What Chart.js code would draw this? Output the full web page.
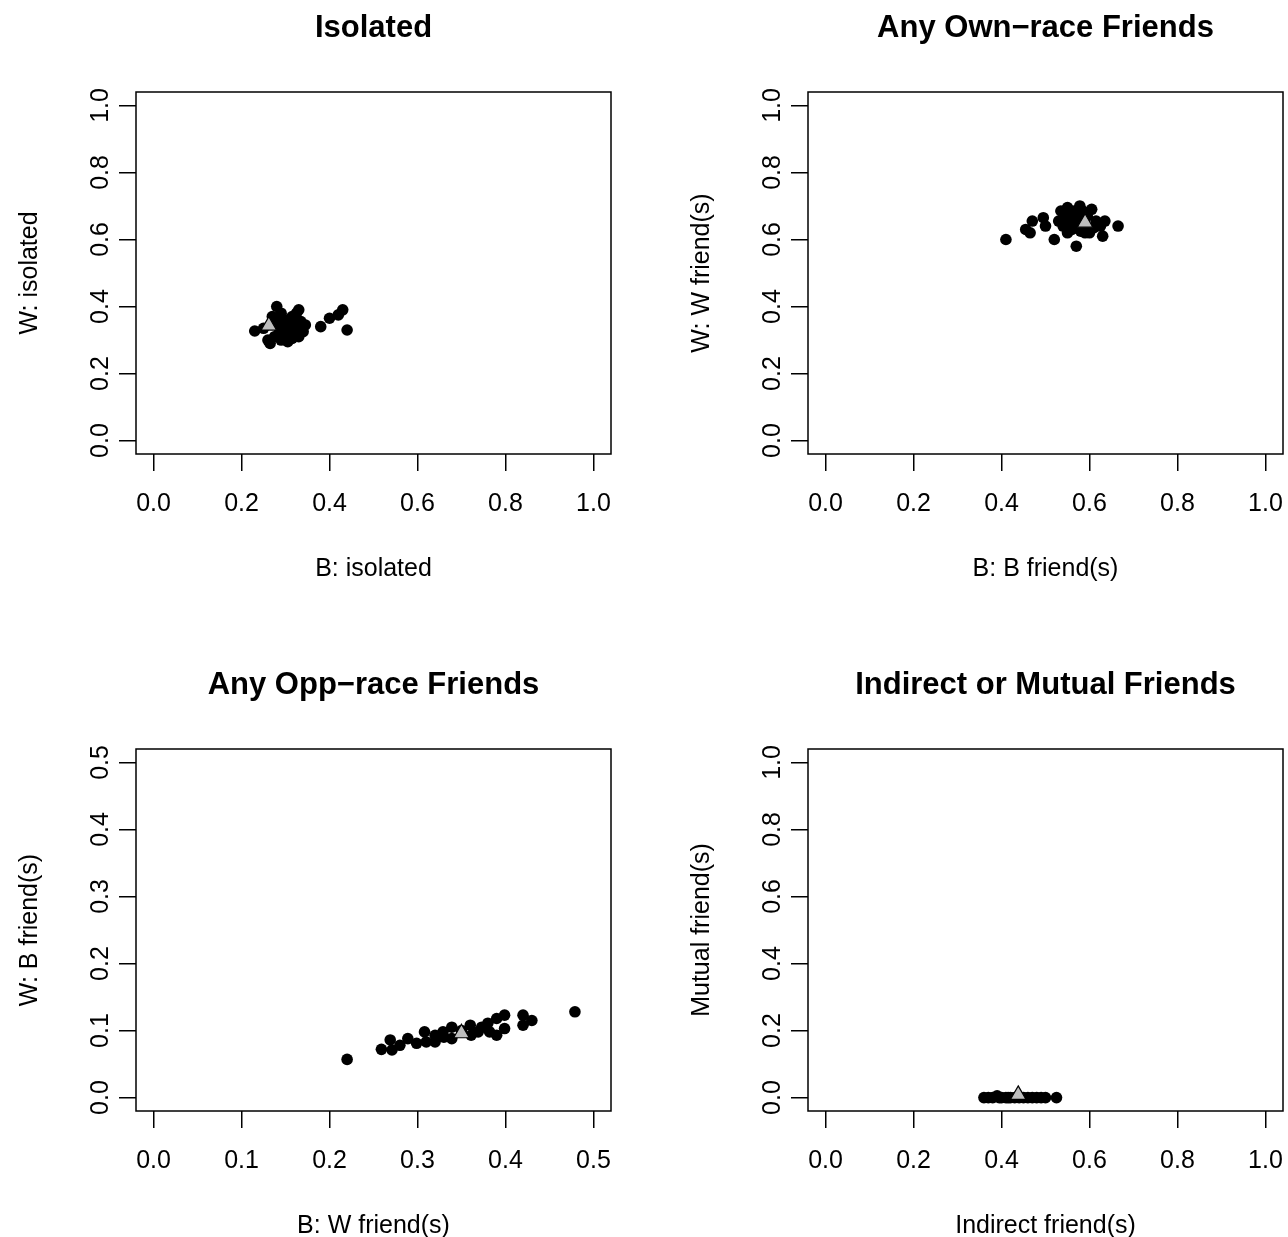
<!DOCTYPE html>
<html>
<head>
<meta charset="utf-8">
<script src="https://cdn.jsdelivr.net/npm/chart.js@4.4.1/dist/chart.umd.min.js"></script>
<style>
  html, body { margin: 0; padding: 0; background: #fff; overflow: hidden; }
  #wrap { position: relative; width: 1288px; height: 1237px; overflow: hidden; }
  canvas { position: absolute; }
</style>
</head>
<body>
<div id="wrap">
  <canvas id="p1" width="672" height="657" style="left:0;top:0"></canvas>
  <canvas id="p2" width="672" height="657" style="left:672px;top:0"></canvas>
  <canvas id="p3" width="672" height="657" style="left:0;top:657px"></canvas>
  <canvas id="p4" width="672" height="657" style="left:672px;top:657px"></canvas>
</div>
<script>
// tick values
var unitTicks = [0, 0.2, 0.4, 0.6, 0.8, 1.0];
var halfTicks = [0, 0.1, 0.2, 0.3, 0.4, 0.5];

// panel titles and axis labels
var titles = ['Isolated', 'Any Own\u2212race Friends', 'Any Opp\u2212race Friends', 'Indirect or Mutual Friends'];
var xLabels = ['B: isolated', 'B: B friend(s)', 'B: W friend(s)', 'Indirect friend(s)'];
var yLabels = ['W: isolated', 'W: W friend(s)', 'W: B friend(s)', 'Mutual friend(s)'];

// Isolated
var isoX = [0.23, 0.25, 0.26, 0.265, 0.27, 0.275, 0.28, 0.28, 0.285, 0.29, 0.29, 0.295, 0.30, 0.30, 0.305, 0.31, 0.31, 0.315, 0.315, 0.32, 0.32, 0.325, 0.325, 0.33, 0.33, 0.335, 0.335, 0.34, 0.345, 0.30, 0.29, 0.31, 0.38, 0.40, 0.42, 0.43, 0.44, 0.275];
var isoY = [0.327, 0.335, 0.30, 0.29, 0.37, 0.355, 0.40, 0.345, 0.32, 0.38, 0.30, 0.335, 0.36, 0.31, 0.295, 0.345, 0.325, 0.37, 0.305, 0.35, 0.32, 0.38, 0.335, 0.39, 0.31, 0.355, 0.34, 0.325, 0.345, 0.34, 0.355, 0.36, 0.34, 0.365, 0.375, 0.39, 0.33, 0.31];
var isoMean = [0.262, 0.343];

// Any own-race friends
var ownX = [0.41, 0.455, 0.465, 0.47, 0.495, 0.50, 0.52, 0.53, 0.535, 0.54, 0.545, 0.55, 0.555, 0.56, 0.56, 0.565, 0.57, 0.57, 0.575, 0.578, 0.58, 0.585, 0.59, 0.595, 0.60, 0.605, 0.61, 0.615, 0.63, 0.635, 0.625, 0.665, 0.55, 0.59];
var ownY = [0.60, 0.63, 0.62, 0.655, 0.665, 0.64, 0.60, 0.655, 0.685, 0.64, 0.665, 0.695, 0.675, 0.655, 0.63, 0.685, 0.645, 0.58, 0.665, 0.70, 0.625, 0.685, 0.64, 0.67, 0.62, 0.69, 0.635, 0.655, 0.61, 0.655, 0.64, 0.64, 0.62, 0.62];
var ownMean = [0.59, 0.65];

// Any opp-race friends
var oppX = [0.22, 0.259, 0.269, 0.271, 0.28, 0.289, 0.299, 0.308, 0.31, 0.32, 0.32, 0.329, 0.339, 0.339, 0.36, 0.361, 0.369, 0.373, 0.38, 0.382, 0.39, 0.39, 0.399, 0.399, 0.42, 0.42, 0.43, 0.479, 0.35, 0.33];
var oppY = [0.057, 0.072, 0.086, 0.071, 0.078, 0.088, 0.081, 0.098, 0.083, 0.093, 0.083, 0.098, 0.105, 0.088, 0.108, 0.093, 0.098, 0.105, 0.111, 0.098, 0.118, 0.093, 0.123, 0.103, 0.123, 0.108, 0.115, 0.128, 0.10, 0.09];
var oppMean = [0.35, 0.096];

// Indirect or mutual friends
var indX = [0.36, 0.37, 0.38, 0.39, 0.40, 0.41, 0.42, 0.43, 0.44, 0.45, 0.46, 0.47, 0.48, 0.49, 0.50, 0.525, 0.395, 0.415];
var mutY = [0, 0, 0, 0.005, 0, 0, 0, 0, 0, 0, 0, 0, 0, 0, 0, 0, 0, 0];
var indMean = [0.438, 0.008];

var FONT = '"Liberation Sans", Arial, Helvetica, sans-serif';

function pairs(xs, ys) {
  return xs.map(function(x, i) { return { x: x, y: ys[i] }; });
}

// frame around plot region, bold title, rotated y tick labels (R style)
var rFrame = {
  id: 'rFrame',
  afterDraw: function(chart, args, opts) {
    var a = chart.chartArea, ctx = chart.ctx, ys = chart.scales.y;
    ctx.save();
    ctx.strokeStyle = '#000';
    ctx.lineWidth = 1.5;
    ctx.strokeRect(a.left, a.top, a.right - a.left, a.bottom - a.top);
    ctx.fillStyle = '#000';
    ctx.textAlign = 'center';
    ctx.textBaseline = 'middle';
    ctx.font = 'bold 31px ' + FONT;
    ctx.fillText(opts.text, (a.left + a.right) / 2, 28);
    ctx.font = '25px ' + FONT;
    ys.ticks.forEach(function(t) {
      var py = ys.getPixelForValue(t.value);
      ctx.save();
      ctx.translate(a.left - 35, py);
      ctx.rotate(-Math.PI / 2);
      ctx.fillText(t.value.toFixed(1), 0, 0);
      ctx.restore();
    });
    ctx.restore();
  }
};

function panel(id, idx, xs, ys, mean, xTicks, yTicks) {
  var xMax = xTicks[xTicks.length - 1];
  var yMax = yTicks[yTicks.length - 1];
  var grid = { display: true, drawOnChartArea: false, drawTicks: true, tickLength: 17, color: '#000', lineWidth: 1.5 };
  new Chart(document.getElementById(id), {
    type: 'scatter',
    data: {
      datasets: [{
        data: [{ x: mean[0], y: mean[1] }],
        pointStyle: 'triangle',
        pointRadius: 9,
        backgroundColor: '#bebebe',
        borderColor: '#000',
        borderWidth: 1.2
      }, {
        data: pairs(xs, ys),
        pointStyle: 'circle',
        pointRadius: 5.8,
        backgroundColor: '#000',
        borderWidth: 0
      }]
    },
    options: {
      responsive: false,
      animation: false,
      devicePixelRatio: 1,
      layout: { padding: { left: 0, right: 61, top: 92, bottom: 0 } },
      plugins: {
        legend: { display: false },
        tooltip: { enabled: false },
        title: { display: false },
        rFrame: { text: titles[idx] }
      },
      scales: {
        x: {
          type: 'linear',
          min: -0.04 * xMax,
          max: 1.04 * xMax,
          afterBuildTicks: function(s) { s.ticks = xTicks.map(function(v) { return { value: v }; }); },
          afterFit: function(s) { s.height = 203; },
          grid: grid,
          border: { display: false },
          ticks: {
            color: '#000',
            font: { family: FONT, size: 25 },
            padding: 18,
            maxRotation: 0,
            autoSkip: false,
            callback: function(v) { return Number(v).toFixed(1); }
          },
          title: {
            display: true,
            text: xLabels[idx],
            color: '#000',
            font: { family: FONT, size: 25 },
            padding: { top: 0, bottom: 73 }
          }
        },
        y: {
          type: 'linear',
          min: -0.04 * yMax,
          max: 1.04 * yMax,
          afterBuildTicks: function(s) { s.ticks = yTicks.map(function(v) { return { value: v }; }); },
          afterFit: function(s) { s.width = 136; },
          grid: grid,
          border: { display: false },
          ticks: { display: false },
          title: {
            display: true,
            text: yLabels[idx],
            color: '#000',
            font: { family: FONT, size: 25 },
            padding: { top: 15, bottom: 0 }
          }
        }
      }
    },
    plugins: [rFrame]
  });
}

panel('p1', 0, isoX, isoY, isoMean, unitTicks, unitTicks);
panel('p2', 1, ownX, ownY, ownMean, unitTicks, unitTicks);
panel('p3', 2, oppX, oppY, oppMean, halfTicks, halfTicks);
panel('p4', 3, indX, mutY, indMean, unitTicks, unitTicks);
</script>
</body>
</html>
